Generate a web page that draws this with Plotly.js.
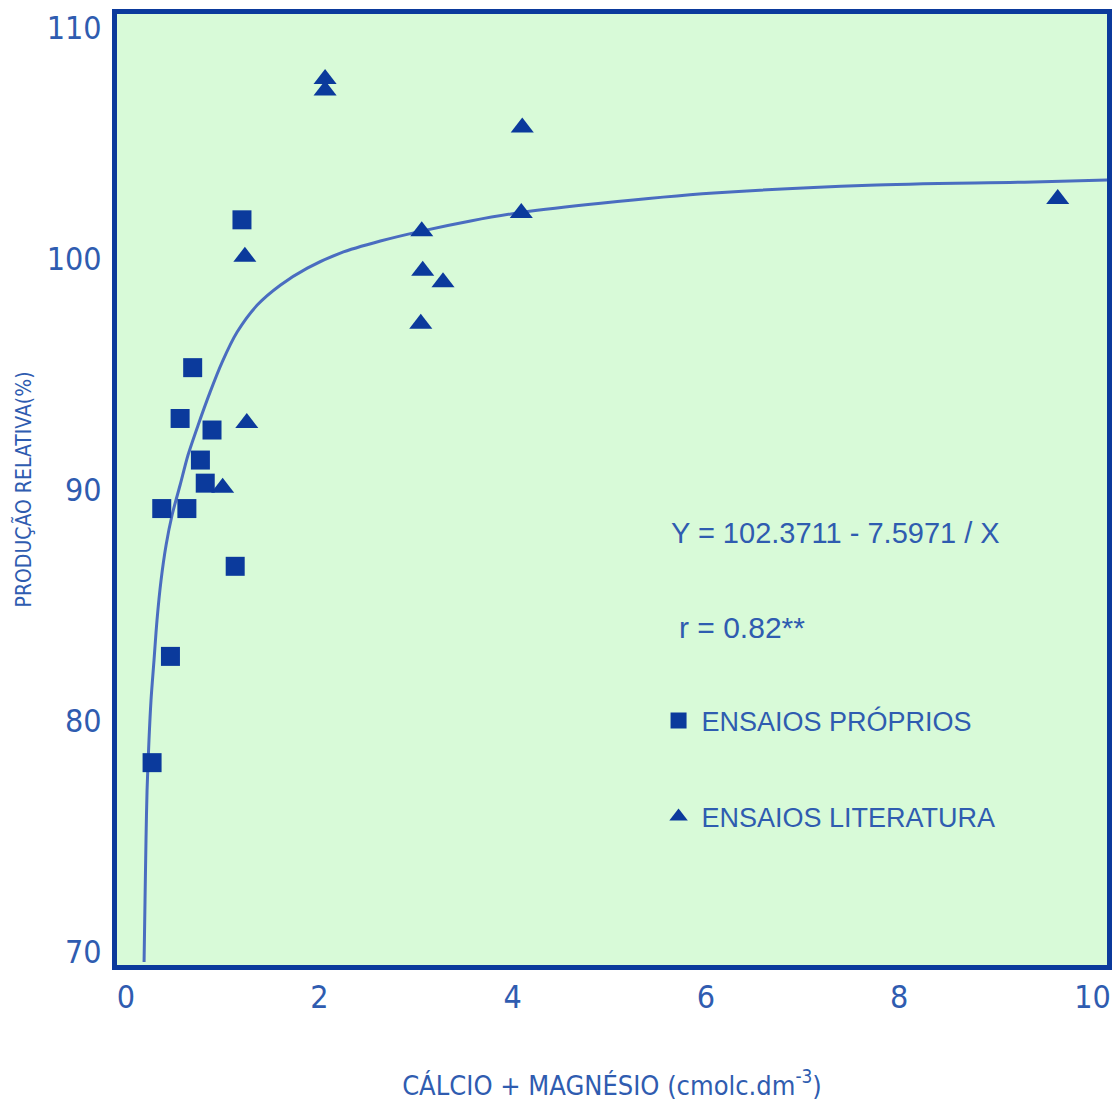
<!DOCTYPE html>
<html>
<head>
<meta charset="utf-8">
<script src="https://cdn.plot.ly/plotly-3.0.1.min.js"></script>
<style>html,body{margin:0;padding:0;background:#fff;}#chart{width:1114px;height:1106px;}</style>
</head>
<body>
<div id="chart"></div>
<script>
// Ensaios próprios (squares)
const ownX = [0.27, 0.37, 0.46, 0.56, 0.63, 0.69, 0.77, 0.82, 0.89, 1.13, 1.20];
const ownY = [78.2, 89.2, 82.8, 93.1, 89.2, 95.3, 91.3, 90.3, 92.6, 86.7, 101.7];
// Ensaios literatura (triangles)
const litX = [1.00, 1.25, 1.23, 2.06, 2.06, 3.06, 3.07, 3.05, 3.28, 4.10, 4.09, 9.64];
const litY = [90.1, 92.9, 100.1, 107.8, 107.3, 101.2, 99.5, 97.2, 99.0, 105.7, 102.0, 102.6];
// Fitted curve
const curveX = [0.187, 0.197, 0.207, 0.218, 0.238, 0.259, 0.290, 0.321, 0.363, 0.415, 0.477, 0.560, 0.642, 0.746, 0.870, 0.995, 1.150, 1.358, 1.596, 1.876, 2.218, 2.632, 3.057, 3.565, 4.104, 4.912, 6.083, 7.689, 9.295, 10.155];
const curveY = [69.57, 72.25, 74.85, 77.01, 79.18, 80.91, 82.64, 84.37, 86.10, 87.62, 88.92, 90.22, 91.52, 92.81, 94.24, 95.54, 96.84, 98.01, 98.87, 99.61, 100.26, 100.78, 101.21, 101.65, 102.03, 102.42, 102.86, 103.20, 103.33, 103.42];
const xTicks = [0, 2, 4, 6, 8, 10];
const yTicks = [70, 80, 90, 100, 110];
const eqText = "Y = 102.3711 - 7.5971 / X";
const rText = "r = 0.82**";
const ownName = "ENSAIOS PRÓPRIOS";
const litName = "ENSAIOS LITERATURA";

const dark = "#0b3a9c";
const txt = "#2f5cb0";
const narrow = "Liberation Sans Narrow, DejaVu Sans Condensed, Arial Narrow, sans-serif";
const sans = "Liberation Sans, Arimo, Arial, sans-serif";

const traces = [
  {x: curveX, y: curveY, mode: "lines", line: {color: "#4a6dc0", width: 3, shape: "spline", smoothing: 0.8}, showlegend: false, hoverinfo: "skip"},
  {x: ownX, y: ownY, mode: "markers", name: ownName, legendgroup: "a",
   marker: {symbol: "square", size: 19, color: dark}},
  {x: litX, y: litY, mode: "markers", name: litName, legendgroup: "b",
   marker: {symbol: "triangle-up", size: 20, color: dark}}
];

const layout = {
  width: 1114, height: 1106,
  margin: {l: 117, r: 7, t: 14, b: 141},
  paper_bgcolor: "#ffffff",
  plot_bgcolor: "#d8fad8",
  showlegend: true,
  legend: {x: 0.544, xanchor: "left", y: 0.2824, yanchor: "top", bgcolor: "rgba(0,0,0,0)",
           font: {family: sans, size: 27, color: txt}, traceorder: "grouped", tracegroupgap: 58, itemwidth: 36},
  xaxis: {
    range: [-0.093, 10.15], tickvals: xTicks, ticktext: xTicks.map(String),
    showgrid: false, zeroline: false, ticks: "", ticklabelstandoff: 0,
    showline: true, linewidth: 5, linecolor: dark, mirror: true,
    tickfont: {family: narrow, size: 32, color: txt},
    title: {text: "CÁLCIO + MAGNÉSIO (cmolc.dm<sup>-3</sup>)", font: {family: narrow, size: 27, color: txt}, standoff: 62},
    automargin: false
  },
  yaxis: {
    range: [69.44, 110.61], tickvals: yTicks, ticktext: yTicks.map(String),
    showgrid: false, zeroline: false, ticks: "", ticklabelstandoff: 4,
    showline: true, linewidth: 5, linecolor: dark, mirror: true,
    tickfont: {family: narrow, size: 32, color: txt},
    title: {text: "PRODUÇÃO RELATIVA(%)", font: {family: narrow, size: 21, color: txt}, standoff: 11},
    automargin: false
  },
  annotations: [
    {x: 5.62, y: 88.14, xref: "x", yref: "y", text: eqText, showarrow: false, xanchor: "left", yanchor: "middle",
     font: {family: sans, size: 29, color: txt}},
    {x: 5.70, y: 84.03, xref: "x", yref: "y", text: rText, showarrow: false, xanchor: "left", yanchor: "middle",
     font: {family: sans, size: 30, color: txt}}
  ]
};

Plotly.newPlot("chart", traces, layout, {displayModeBar: false, staticPlot: true});
</script>
</body>
</html>
